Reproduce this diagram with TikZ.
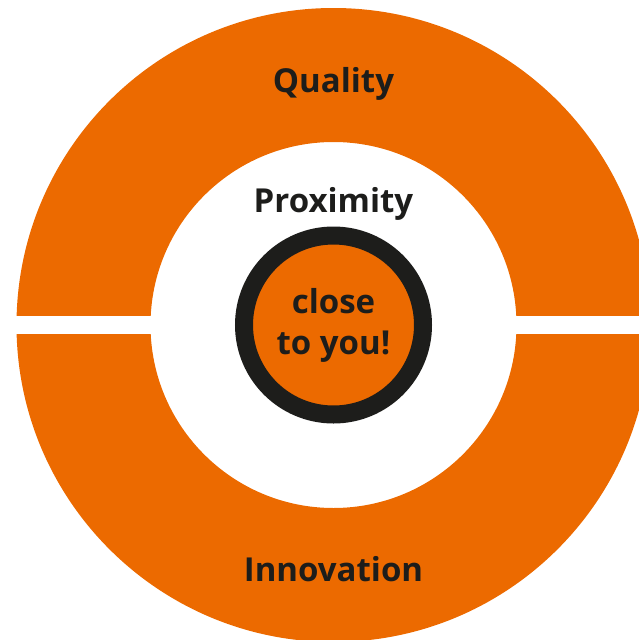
\documentclass[tikz,border=0pt]{standalone}
\usepackage{fontspec}
\setmainfont{Open Sans}
\usepackage{xcolor}
\definecolor{brandorange}{HTML}{EC6A00}
\definecolor{darkring}{HTML}{1D1D1B}

\tikzset{
  label/.style={text=darkring, font=\bfseries\fontsize{33}{41}\selectfont, anchor=base, align=center, inner sep=0pt}
}

\begin{document}
\begin{tikzpicture}[x=1pt,y=-1pt]
            % Canvas
            \clip (0,0) rectangle (639,640);
            % Outer ring
            \fill[brandorange, even odd rule] (333.5,325) circle (317) (333.5,325) circle (183);
            % Gap between the two halves
            \fill[white] (0,316) rectangle (639,334);
            % Centre disc with dark rim
            \draw[darkring, line width=18pt, fill=brandorange] (333.5,325) circle (89.5);
            % Labels
            \node[label] (quality) at (333.5,92) {Quality};
            \node[label] (proximity) at (333.5,212) {Proximity};
            \node[label] (close) at (333.5,354) {close\\to you!};
            \node[label] (innovation) at (333.5,581) {Innovation};
        \end{tikzpicture}
\end{document}
